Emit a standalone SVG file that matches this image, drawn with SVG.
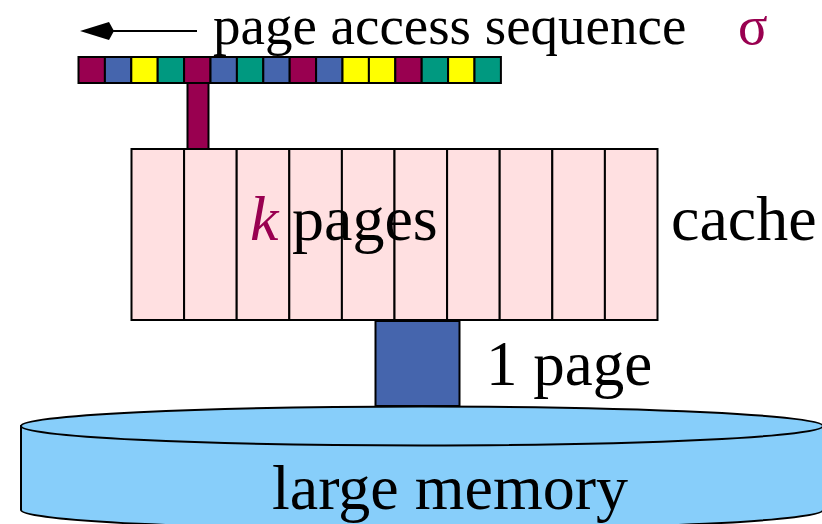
<svg xmlns="http://www.w3.org/2000/svg" width="822" height="524" viewBox="0 0 822 524">
<style>
.t{font-family:"Liberation Serif","Times New Roman",serif;fill:#000}
.sq{stroke:#000;stroke-width:2}
.m{fill:#990050}.b{fill:#4565AD}.y{fill:#FFFF00}.g{fill:#009980}
.cell{fill:#FFE0E1;stroke:#000;stroke-width:2}
</style>
<rect width="822" height="524" fill="#fff"/>
<g id="memory">
<path d="M21,426 L21,510 A401,19.5 0 0 0 823,510 L823,426 Z" fill="#87CEFA" stroke="#000" stroke-width="2"/>
<ellipse cx="422" cy="426" rx="401" ry="19.5" fill="#87CEFA" stroke="#000" stroke-width="2"/>
<text class="t" x="272" y="509" font-size="64">large memory</text>
</g>
<g id="cache">
<rect class="cell" x="131.5" y="149" width="52.6" height="171"/>
<rect class="cell" x="184.1" y="149" width="52.6" height="171"/>
<rect class="cell" x="236.7" y="149" width="52.6" height="171"/>
<rect class="cell" x="289.3" y="149" width="52.6" height="171"/>
<rect class="cell" x="341.9" y="149" width="52.6" height="171"/>
<rect class="cell" x="394.5" y="149" width="52.6" height="171"/>
<rect class="cell" x="447.1" y="149" width="52.6" height="171"/>
<rect class="cell" x="499.7" y="149" width="52.6" height="171"/>
<rect class="cell" x="552.3" y="149" width="52.6" height="171"/>
<rect class="cell" x="604.9" y="149" width="52.6" height="171"/>
<text class="t" x="250" y="240" font-size="64" font-style="italic" fill="#990050" style="fill:#990050">k</text>
<text class="t" x="292" y="240" font-size="64">pages</text>
<text class="t" x="671" y="240" font-size="64">cache</text>
</g>
<g id="sequence">
<rect class="sq m" x="78.5" y="57" width="26.4" height="26"/>
<rect class="sq b" x="104.9" y="57" width="26.4" height="26"/>
<rect class="sq y" x="131.3" y="57" width="26.4" height="26"/>
<rect class="sq g" x="157.7" y="57" width="26.4" height="26"/>
<rect class="sq m" x="184.1" y="57" width="26.4" height="26"/>
<rect class="sq b" x="210.5" y="57" width="26.4" height="26"/>
<rect class="sq g" x="236.9" y="57" width="26.4" height="26"/>
<rect class="sq b" x="263.3" y="57" width="26.4" height="26"/>
<rect class="sq m" x="289.7" y="57" width="26.4" height="26"/>
<rect class="sq b" x="316.1" y="57" width="26.4" height="26"/>
<rect class="sq y" x="342.5" y="57" width="26.4" height="26"/>
<rect class="sq y" x="368.9" y="57" width="26.4" height="26"/>
<rect class="sq m" x="395.3" y="57" width="26.4" height="26"/>
<rect class="sq g" x="421.7" y="57" width="26.4" height="26"/>
<rect class="sq y" x="448.1" y="57" width="26.4" height="26"/>
<rect class="sq g" x="474.5" y="57" width="26.4" height="26"/>
<text class="t" x="213" y="44" font-size="55">page access sequence</text>
<text x="738" y="44" font-size="55" font-family="Liberation Serif, serif" fill="#990050">σ</text>
</g>
<g id="connectors">
<line x1="112" y1="31" x2="197" y2="31" stroke="#000" stroke-width="2"/>
<polygon points="80,31 109,22 114,31 109,40" fill="#000"/>
<rect x="187.5" y="83" width="21" height="66" class="m" stroke="#000" stroke-width="2"/>
<rect x="375.5" y="321" width="84" height="85" class="b" stroke="#000" stroke-width="2"/>
<text class="t" x="486" y="385" font-size="63">1 page</text>
</g>
</svg>
